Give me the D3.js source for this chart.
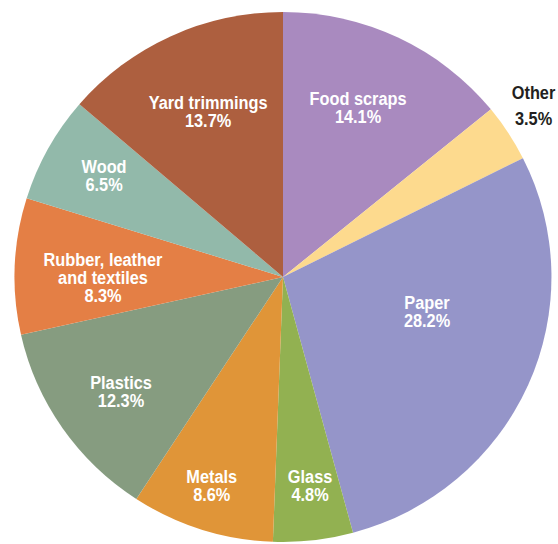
<!DOCTYPE html>
<html>
<head>
<meta charset="utf-8">
<script src="https://cdn.jsdelivr.net/npm/d3@7"></script>
<style>
  body { margin: 0; background: #fff; }
  svg text { font-family: "Liberation Sans", Arial, sans-serif; font-weight: bold; }
</style>
</head>
<body>
<svg id="chart" width="558" height="544"></svg>
<script>
// slices, clockwise from 12 o'clock
const categories = ['Food scraps', 'Other', 'Paper', 'Glass', 'Metals', 'Plastics', 'Rubber, leather\nand textiles', 'Wood', 'Yard trimmings']
const shares = [14.1, 3.5, 28.2, 4.8, 8.6, 12.3, 8.3, 6.5, 13.7]
const colors = ['#a98abf', '#fdda8e', '#9595c9', '#92b151', '#e09538', '#869c80', '#e47f45', '#92b9aa', '#ad5f3f']

// label placement: angle (deg, clockwise from top) and distance from centre
const labelAngle = [23.8, 55.5, 103.3, 172.6, 198.9, 234.9, 270, 299.7, 335.7]
const labelRadius = [186, 304, 148, 210, 220, 198, 180, 206, 182]

const cx = 283, cy = 277, radius = 265

const svg = d3.select('#chart')
const g = svg.append('g')
  .attr('transform', `translate(${cx},${cy}) scale(1.013,1)`)

const pie = d3.pie().sort(null).value(d => d)
const arc = d3.arc().innerRadius(0).outerRadius(radius)

g.selectAll('path')
  .data(pie(shares))
  .enter()
  .append('path')
  .attr('d', arc)
  .attr('fill', (d, i) => colors[i])

const labels = svg.append('g')
  .attr('transform', `translate(${cx},${cy})`)

categories.forEach((name, i) => {
  const a = labelAngle[i] * Math.PI / 180
  const x = Math.sin(a) * labelRadius[i]
  const y = -Math.cos(a) * labelRadius[i]
  const lines = name.split('\n').concat([shares[i].toFixed(1) + '%'])
  const lineH = name === 'Other' ? 26 : 18
  const top = y - (lines.length - 1) * lineH / 2
  // condensed look: squeeze text horizontally
  const t = labels.append('text')
    .attr('transform', `translate(${x},${top}) scale(0.86,1)`)
    .attr('text-anchor', 'middle')
    .attr('font-size', 19)
    .attr('fill', name === 'Other' ? '#231f20' : '#fff')
  lines.forEach((ln, j) => {
    t.append('tspan')
      .attr('x', 0)
      .attr('y', j * lineH)
      .attr('dy', '0.36em')
      .text(ln)
  })
})
</script>
</body>
</html>
